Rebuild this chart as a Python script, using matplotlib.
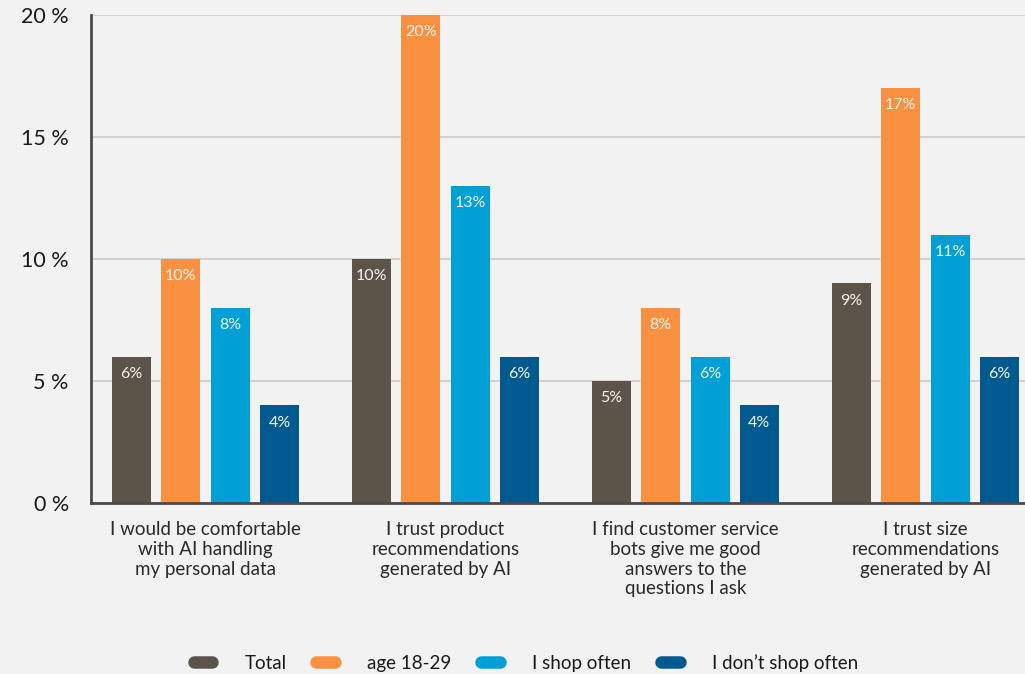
import matplotlib.pyplot as plt
import numpy as np
from matplotlib.lines import Line2D
from matplotlib.ticker import FuncFormatter

plt.rcParams["font.family"] = ["Lato", "DejaVu Sans"]

categories = [
    "I would be comfortable\nwith AI handling\nmy personal data",
    "I trust product\nrecommendations\ngenerated by AI",
    "I find customer service\nbots give me good\nanswers to the\nquestions I ask",
    "I trust size\nrecommendations\ngenerated by AI",
]
series = ["Total", "age 18-29", "I shop often", "I don\u2019t shop often"]
total = [6, 10, 5, 9]
age_18_29 = [10, 20, 8, 17]
shop_often = [8, 13, 6, 11]
dont_shop_often = [4, 6, 4, 6]
colors = ["#5c5449", "#fa9142", "#00a0d6", "#005a8f"]
y_ticks = [0, 5, 10, 15, 20]

bg = "#f2f2f2"
fig = plt.figure(figsize=(10.25, 6.74), dpi=100, facecolor=bg)
ax = fig.add_axes([0.0888, 0.2537, 0.9112, 0.724])
ax.set_facecolor(bg)

x = np.arange(len(categories))
pitch = 0.2055
width = 0.1625
values = [total, age_18_29, shop_often, dont_shop_often]
for i, (name, vals, col) in enumerate(zip(series, values, colors)):
    pos = x + (i - 1.5) * pitch
    bars = ax.bar(pos, vals, width, color=col, zorder=3, label=name)
    for b, v in zip(bars, vals):
        ax.text(b.get_x() + b.get_width() / 2, v - 0.42, f"{v}%",
                ha="center", va="top", color="#f4f4f4", fontsize=11.5, zorder=4)

ax.set_xlim(-0.477, 3.415)
ax.set_ylim(0, 20)
ax.set_yticks(y_ticks)
ax.yaxis.set_major_formatter(FuncFormatter(lambda v, p: f"{int(v)} %"))
ax.tick_params(axis="y", length=0, pad=16, labelsize=15.5, labelcolor="#1a1a1a")
ax.set_xticks(x)
ax.set_xticklabels(categories, fontsize=13.5, color="#2a2a2a", linespacing=1.2)
ax.tick_params(axis="x", length=0, pad=13)
ax.grid(axis="y", color="#cfcfcf", linewidth=1.3, zorder=0)

for s in ["top", "right"]:
    ax.spines[s].set_visible(False)
for s in ["left", "bottom"]:
    ax.spines[s].set_color("#4a4a4a")
    ax.spines[s].set_linewidth(2)
    ax.spines[s].set_zorder(5)

handles = [Line2D([0], [0], color=c, lw=9, solid_capstyle="round") for c in colors]
fig.legend(handles, series, loc="lower center", bbox_to_anchor=(0.513, -0.022),
           ncol=4, frameon=False, fontsize=13.5, handlelength=1.0,
           handletextpad=1.7, columnspacing=1.6, labelcolor="#1a1a1a")

fig.savefig("out.png", dpi=100, facecolor=bg)
